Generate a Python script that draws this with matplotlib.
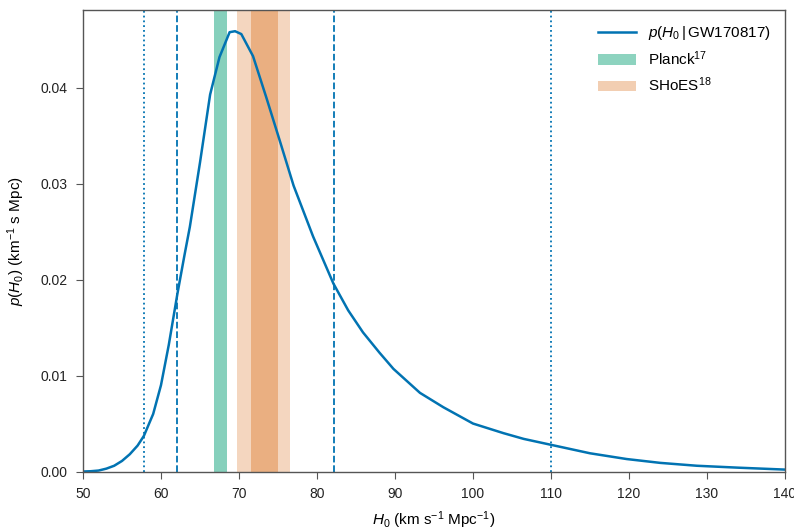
import numpy as np
import matplotlib
matplotlib.use('Agg')
import matplotlib.pyplot as plt
from matplotlib.patches import Patch
from matplotlib.lines import Line2D

# posterior p(H0 | GW170817)
h0 = [50, 51, 52, 53, 54, 55, 56, 57, 57.8, 59, 60, 61, 62.1, 63, 63.7, 65, 66.3, 67.5,
      68.8, 69.5, 70.3, 71.8, 73.5, 75.3, 77.0, 79.5, 82.1, 84, 85.9, 88, 89.8, 93.2,
      96.2, 100, 103.9, 106.5, 109.9, 115, 119.7, 124, 128.7, 134, 140]
p_h0 = [0.0, 0.00003, 0.0001, 0.0003, 0.0006, 0.0011, 0.0018, 0.0027, 0.0037, 0.0060,
        0.0090, 0.0132, 0.0185, 0.0225, 0.0255, 0.0322, 0.0393, 0.0432,
        0.0458, 0.0459, 0.0456, 0.0433, 0.0390, 0.0343, 0.0298, 0.0245, 0.0196, 0.0168,
        0.0145, 0.0124, 0.0107, 0.0082, 0.0067, 0.0050, 0.0040, 0.0034, 0.0028, 0.0019,
        0.0013, 0.0009, 0.0006, 0.0004, 0.0002]

# credible intervals (dashed = 68%, dotted = 95%)
ci68 = [62.1, 82.2]
ci95 = [57.8, 110.0]

# Planck and SHoES bands
planck_band = [66.8, 68.5]
shoes_1s = [71.5, 75.0]
shoes_2s = [69.7, 76.6]

blue = '#0173b2'
orange = '#d55e00'
green = '#029e73'

plt.rcParams['font.family'] = ['Liberation Sans', 'DejaVu Sans']
plt.rcParams['mathtext.fontset'] = 'custom'
plt.rcParams['mathtext.rm'] = 'Liberation Sans'
plt.rcParams['mathtext.it'] = 'Liberation Sans:italic'
plt.rcParams['font.size'] = 10

fig = plt.figure(figsize=(7.94, 5.32), dpi=100)
ax = fig.add_axes([0.1045, 0.1137, 0.8842, 0.8673])

ax.axvspan(planck_band[0], planck_band[1], color=green, alpha=0.48, lw=0)
ax.axvspan(shoes_2s[0], shoes_2s[1], color=orange, alpha=0.25, lw=0)
ax.axvspan(shoes_1s[0], shoes_1s[1], color=orange, alpha=0.32, lw=0)

for v in ci68:
    ax.axvline(v, color=blue, ls='--', lw=1.3)
for v in ci95:
    ax.axvline(v, color=blue, ls=':', lw=1.3)

ax.plot(h0, p_h0, color=blue, lw=1.8)

ax.set_xlim(50, 140)
ax.set_ylim(0, 0.0481)
ax.set_yticks([0.0, 0.01, 0.02, 0.03, 0.04])
ax.set_yticklabels(['0.00', '0.01', '0.02', '0.03', '0.04'])

ax.set_xlabel(r'$H_0$ (km s$^{-1}$ Mpc$^{-1}$)', fontsize=11, labelpad=6)
ax.set_ylabel(r'$p(H_0)$ (km$^{-1}$ s Mpc)', fontsize=11, labelpad=10)

for s in ax.spines.values():
    s.set_color('#555555')
    s.set_linewidth(1.0)
ax.tick_params(direction='out', length=5, pad=6, color='#555555', labelcolor='#222222')

handles = [Line2D([], [], color=blue, lw=1.8),
           Patch(color=green, alpha=0.45, lw=0),
           Patch(color=orange, alpha=0.3, lw=0)]
labels = [r'$p(H_0\,|\,$GW170817$)$', r'Planck$^{17}$', r'SHoES$^{18}$']
ax.legend(handles, labels, loc='upper right', frameon=False, fontsize=11,
          handlelength=2.5)

plt.savefig('out.png', dpi=100)
